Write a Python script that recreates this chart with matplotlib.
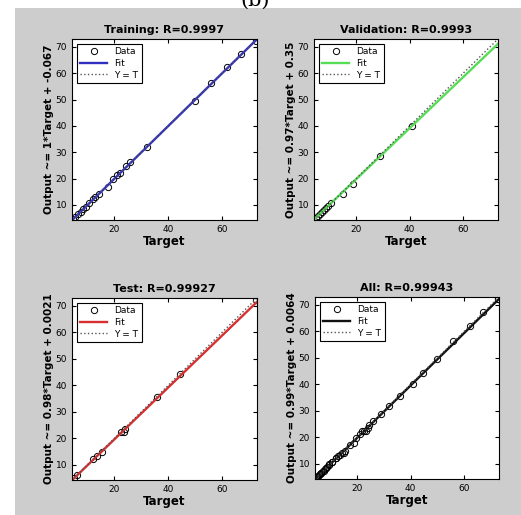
import numpy as np
import matplotlib.pyplot as plt
from matplotlib.patches import Rectangle

# data (target, output)
train_t = [4.5, 5.5, 6.5, 7.5, 8.5, 9.5, 10.5, 12, 13, 14.5, 17.5, 19.5, 21, 22, 24.5, 26, 32, 50, 56, 62, 67, 72.5]
train_y = [4.5, 5.5, 6.6, 7.4, 8.6, 9.4, 10.7, 12.2, 13.1, 14.2, 17.0, 19.8, 21.2, 22.3, 24.8, 26.3, 32.0, 49.6, 56.3, 62.2, 67.3, 72.4]
val_t = [5, 5.8, 6.5, 7.2, 8, 8.8, 9.6, 10.5, 15, 19, 29, 41]
val_y = [5.1, 5.9, 6.7, 7.4, 8.1, 8.9, 9.8, 10.7, 14.0, 18.0, 28.7, 40.0]
test_t = [5, 6, 12, 13.5, 15.5, 22.5, 23.5, 24, 36, 44.5, 72.5]
test_y = [5.1, 6.0, 12.2, 13.3, 15.0, 22.3, 22.6, 23.4, 35.8, 44.2, 72.2]

titles = ['Training: R=0.9997', 'Validation: R=0.9993', 'Test: R=0.99927', 'All: R=0.99943']
ylabels = ['Output ~= 1*Target + -0.067', 'Output ~= 0.97*Target + 0.35',
           'Output ~= 0.98*Target + 0.0021', 'Output ~= 0.99*Target + 0.0064']
slopes = [1.0, 0.97, 0.98, 0.99]
offsets = [-0.067, 0.35, 0.0021, 0.0064]
fit_colors = ['#3030c0', '#55dd55', '#d83030', '#111111']

all_t = train_t + val_t + test_t
all_y = train_y + val_y + test_y
targets = [train_t, val_t, test_t, all_t]
outputs = [train_y, val_y, test_y, all_y]

fig = plt.figure(figsize=(5.21, 5.15), dpi=100)
fig.patch.set_facecolor('white')
fig.patches.append(Rectangle((15 / 521, 0), 1 - 15 / 521, 1 - 8 / 515,
                             transform=fig.transFigure, facecolor='#cdcdcd',
                             edgecolor='none', zorder=-10))
# label cut off at the top edge, as in the source
fig.text(255 / 521, 1.0, '(b)', ha='center', va='center', fontsize=15, family='serif')

# axes boxes in pixels: left, top, right, bottom
boxes = [(72, 39, 257, 220), (314, 39, 498, 220), (72, 298, 257, 480), (315, 297, 499, 479)]
lo, hi = 4.3, 73

for i in range(4):
    l, t, r, b = boxes[i]
    ax = fig.add_axes([l / 521, 1 - b / 515, (r - l) / 521, (b - t) / 515])
    ax.set_facecolor('white')
    xx = np.array([lo, hi])
    ax.plot(targets[i], outputs[i], 'o', mfc='none', mec='black', ms=4.5, mew=0.7, label='Data')
    ax.plot(xx, slopes[i] * xx + offsets[i], '-', color=fit_colors[i], lw=1.7, label='Fit')
    ax.plot(xx, xx, ':', color='#555555', lw=1.0, label='Y = T')
    ax.set_xlim(lo, hi)
    ax.set_ylim(lo, hi)
    ax.set_xticks([20, 40, 60])
    ax.set_yticks([10, 20, 30, 40, 50, 60, 70])
    ax.tick_params(direction='in', top=True, right=True, labelsize=6.5, length=3)
    ax.set_title(titles[i], fontsize=8, fontweight='bold', pad=4)
    ax.set_xlabel('Target', fontsize=8.5, fontweight='bold', labelpad=1)
    ax.set_ylabel(ylabels[i], fontsize=7.5, fontweight='bold', labelpad=1)
    leg = ax.legend(loc='upper left', fontsize=6.5, fancybox=False, framealpha=1,
                    edgecolor='black', handlelength=3, borderpad=0.4, labelspacing=0.3)
    leg.get_frame().set_linewidth(0.8)

plt.savefig('out.png', dpi=100)
